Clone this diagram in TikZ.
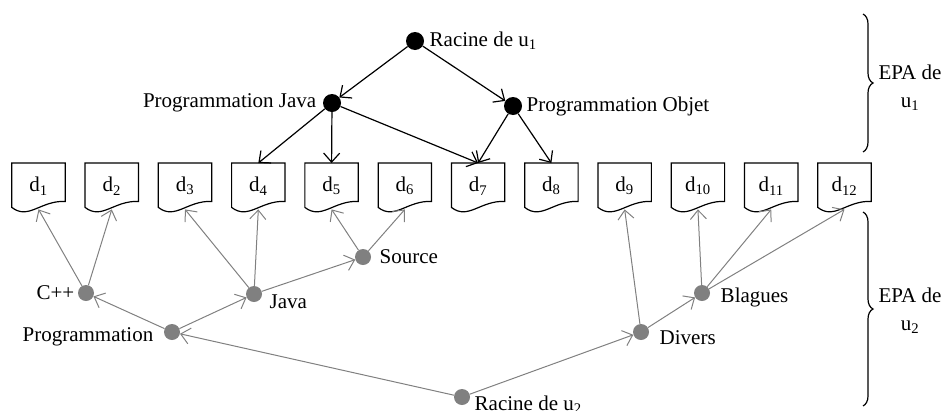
\documentclass[tikz,border=0pt]{standalone}
\usepackage{fontspec}
\setmainfont{Liberation Serif}
\usetikzlibrary{arrows.meta,decorations.pathreplacing}
\tikzset{
  blackdot/.style={circle,fill=black,inner sep=0pt,minimum size=18pt},
  graydot/.style={circle,fill=gray,inner sep=0pt,minimum size=16pt},
  blackarrow/.style={line width=1.2pt,-{Straight Barb[length=9pt,width=16pt]}},
  grayarrow/.style={gray,line width=1pt,-{Straight Barb[length=9pt,width=16pt]}},
  docnode/.style={minimum width=53pt,minimum height=46pt,inner sep=0pt,anchor=north},
  epabrace/.style={line width=1.2pt,decorate,decoration={brace,amplitude=10pt}}
}
\begin{document}
\begin{tikzpicture}[x=1pt,y=-1pt,font=\fontsize{21}{28}\selectfont]
\useasboundingbox (0,0) rectangle (949,410);
% Documents
\foreach \i in {1,...,12}{
  \node[docnode] (d\i) at ({38.5+73.27*(\i-1)},163) {d\textsubscript{\i}};
  \draw[line width=1.2pt] (d\i.north west) -- (d\i.north east) -- ([yshift=8pt]d\i.south east)
    .. controls ([xshift=2pt,yshift=9pt]d\i.south) and ([xshift=-10pt,yshift=-11pt]d\i.south)
    .. ([yshift=2pt]d\i.south west) -- cycle;
}

% EPA de u1
\node[blackdot,label={[label distance=2pt]right:Racine de u\textsubscript{1}}] (racineA) at (415,41) {};
\node[blackdot,label={[label distance=3pt]left:Programmation Java}] (progJava) at (332,103) {};
\node[blackdot,label={[label distance=1pt]right:Programmation Objet}] (progObjet) at (513,106) {};
\draw[blackarrow] (racineA) -- (progJava);
\draw[blackarrow] (racineA) -- (progObjet);
\draw[blackarrow] (progJava) -- (d4.north);
\draw[blackarrow] (progJava) -- (d5.north);
\draw[blackarrow] (progJava) -- (d7.north);
\draw[blackarrow] (progObjet) -- (d7.north);
\draw[blackarrow] (progObjet) -- (d8.north);

% EPA de u2
\node[graydot,label={left:C++}] (cpp) at (86,293) {};
\node[graydot,label={[label distance=7pt,yshift=-5pt]left:Programmation}] (prog) at (172,332) {};
\node[graydot,label={[label distance=4pt,yshift=-8pt]right:Java}] (java) at (254,294) {};
\node[graydot,label={[label distance=5pt]right:Source}] (source) at (363,257) {};
\node[graydot,label={[label distance=1pt,yshift=-8pt]right:Racine de u\textsubscript{2}}] (racineB) at (462,397) {};
\node[graydot,label={[label distance=7pt,yshift=-6pt]right:Divers}] (divers) at (641,332) {};
\node[graydot,label={[label distance=7pt,yshift=-4pt]right:Blagues}] (blagues) at (702,293) {};
\draw[grayarrow] (racineB) -- (prog);
\draw[grayarrow] (racineB) -- (divers);
\draw[grayarrow] (prog) -- (cpp);
\draw[grayarrow] (prog) -- (java);
\draw[grayarrow] (cpp) -- (d1.south);
\draw[grayarrow] (cpp) -- (d2.south);
\draw[grayarrow] (java) -- (d3.south);
\draw[grayarrow] (java) -- (d4.south);
\draw[grayarrow] (java) -- (source);
\draw[grayarrow] (source) -- (d5.south);
\draw[grayarrow] (source) -- (d6.south);
\draw[grayarrow] (divers) -- (d9.south);
\draw[grayarrow] (divers) -- (blagues);
\draw[grayarrow] (blagues) -- (d10.south);
\draw[grayarrow] (blagues) -- (d11.south);
\draw[grayarrow] (blagues) -- (d12.south);

% Braces
\draw[epabrace] (863,14) -- (863,152);
\node[align=center] (epaA) at (910,88) {EPA de\\u\textsubscript{1}};
\draw[epabrace] (863,212) -- (863,406);
\node[align=center] (epaB) at (910,311) {EPA de\\u\textsubscript{2}};
\end{tikzpicture}
\end{document}
